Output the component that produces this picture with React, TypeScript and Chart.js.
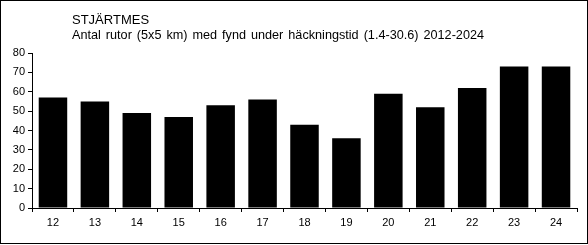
import React, { useEffect, useRef } from "react";
import { Chart, registerables } from "chart.js";

Chart.register(...registerables);

const categories = ["12", "13", "14", "15", "16", "17", "18", "19", "20", "21", "22", "23", "24"];
const values = [57, 55, 49, 47, 53, 56, 43, 36, 59, 52, 62, 73, 73];
const titleLines = [
  "STJÄRTMES",
  "Antal rutor (5x5 km) med fynd under häckningstid (1.4-30.6) 2012-2024",
];
const yMin = 0;
const yMax = 80;
const yStep = 10;

const FONT = '"Liberation Sans", Arial, sans-serif';

const framePlugin = {
  id: "frame",
  afterDraw(chart: any) {
    const ctx = chart.ctx;
    ctx.save();
    ctx.strokeStyle = "#000";
    ctx.lineWidth = 1;
    ctx.strokeRect(0.5, 0.5, 587, 243);
    ctx.fillStyle = "#000";
    ctx.font = `13px ${FONT}`;
    ctx.textBaseline = "alphabetic";
    ctx.textAlign = "left";
    ctx.fillText(titleLines[0], 72, 24);
    try {
      (ctx as any).wordSpacing = "1.5px";
    } catch (e) {}
    const w = ctx.measureText(titleLines[1]).width;
    const target = 412;
    ctx.translate(72, 39);
    if (w > 0) ctx.scale(target / w, 1);
    ctx.fillText(titleLines[1], 0, 0);
    ctx.restore();
  },
};

export default function App() {
  const ref = useRef<HTMLCanvasElement | null>(null);
  useEffect(() => {
    document.body.style.margin = "0";
    if (!ref.current) return;
    const chart = new Chart(ref.current, {
      type: "bar",
      data: {
        labels: categories,
        datasets: [
          {
            data: values,
            backgroundColor: "#000",
            borderWidth: 0,
            barPercentage: 0.68,
            categoryPercentage: 1,
          },
        ],
      },
      options: {
        responsive: false,
        animation: false,
        layout: { padding: { left: 0, right: 11, top: 53, bottom: 0 } },
        plugins: {
          legend: { display: false },
          tooltip: { enabled: false },
          title: { display: false },
        },
        scales: {
          x: {
            offset: true,
            grid: {
              display: true,
              offset: true,
              drawOnChartArea: false,
              drawTicks: true,
              tickLength: 4,
              color: "#000",
            },
            border: { display: true, color: "#000", width: 1 },
            ticks: {
              color: "#000",
              font: { family: FONT, size: 11 },
              padding: 4,
              maxRotation: 0,
              autoSkip: false,
            },
            afterFit(scale: any) {
              scale.height = 37;
            },
          },
          y: {
            min: yMin,
            max: yMax,
            grid: {
              display: true,
              drawOnChartArea: false,
              drawTicks: true,
              tickLength: 4,
              color: "#000",
            },
            border: { display: true, color: "#000", width: 1 },
            ticks: {
              stepSize: yStep,
              color: "#000",
              font: { family: FONT, size: 11 },
              padding: 3,
            },
            afterFit(scale: any) {
              scale.width = 32;
            },
          },
        },
      },
      plugins: [framePlugin],
    });
    return () => chart.destroy();
  }, []);
  return <canvas ref={ref} width={588} height={245} style={{ display: "block" }} />;
}
